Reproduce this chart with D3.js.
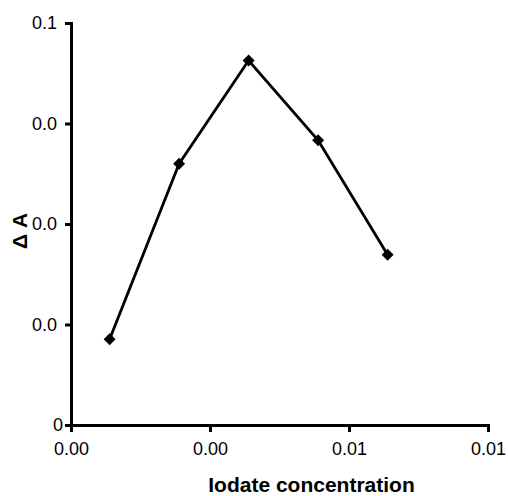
<!DOCTYPE html>
<html>
<head>
<meta charset="utf-8">
<script src="https://cdn.jsdelivr.net/npm/d3@7"></script>
<style>
  html, body { margin: 0; padding: 0; background: #fff; }
  svg { display: block; }
  text { font-family: "Liberation Sans", Arial, sans-serif; fill: #000; }
</style>
</head>
<body>
<svg id="chart" width="508" height="496"></svg>
<script>
// Iodate concentration vs. absorbance change
const concentration = [0.001, 0.0028, 0.0046, 0.0064, 0.0082];
const deltaA = [0.0128, 0.0390, 0.0544, 0.0425, 0.0254];

const xTicks = [0, 0.0036, 0.0072, 0.0108];
const xTickLabels = ["0.00", "0.00", "0.01", "0.01"];
const yTicks = [0, 0.015, 0.03, 0.045, 0.06];
const yTickLabels = ["0", "0.0", "0.0", "0.0", "0.1"];

const xTitle = "Iodate concentration";
const yTitle = "Δ A";

const svg = d3.select("#chart");
const plotLeft = 71, plotRight = 488, plotTop = 23, plotBottom = 425;

const x = d3.scaleLinear().domain([0, 0.0108]).range([plotLeft, plotRight]);
const y = d3.scaleLinear().domain([0, 0.06]).range([plotBottom, plotTop]);

const xAxis = d3.axisBottom(x)
  .tickValues(xTicks)
  .tickFormat((d, i) => xTickLabels[i])
  .tickSizeInner(7).tickSizeOuter(0).tickPadding(10);

const yAxis = d3.axisLeft(y)
  .tickValues(yTicks)
  .tickFormat((d, i) => yTickLabels[i])
  .tickSizeInner(6).tickSizeOuter(0).tickPadding(8);

const gx = svg.append("g").attr("transform", `translate(0,${plotBottom})`).call(xAxis);
const gy = svg.append("g").attr("transform", `translate(${plotLeft},0)`).call(yAxis);

[gx, gy].forEach(g => {
  g.select(".domain").attr("stroke", "#000").attr("stroke-width", 3)
    .attr("stroke-linecap", "square");
  g.selectAll(".tick line").attr("stroke", "#000").attr("stroke-width", 3);
  g.selectAll(".tick text").attr("font-size", 18)
    .attr("font-family", "'Liberation Sans', Arial, sans-serif").attr("fill", "#000");
});
// the lone "0" label sits a little closer to the axis
gy.selectAll(".tick text").filter((d, i) => yTickLabels[i] === "0").attr("x", -8);

const points = concentration.map((c, i) => ({ x: c, y: deltaA[i] }));

const line = d3.line().x(d => x(d.x)).y(d => y(d.y));
svg.append("path")
  .datum(points)
  .attr("d", line)
  .attr("fill", "none")
  .attr("stroke", "#000")
  .attr("stroke-width", 2.8)
  .attr("stroke-linejoin", "miter");

svg.selectAll(".marker")
  .data(points)
  .enter().append("path")
  .attr("class", "marker")
  .attr("d", d3.symbol().type(d3.symbolSquare).size(72))
  .attr("transform", d => `translate(${x(d.x)},${y(d.y)}) rotate(45)`)
  .attr("fill", "#000");

svg.append("text")
  .attr("x", (plotLeft + plotRight) / 2 + 32)
  .attr("y", 492)
  .attr("text-anchor", "middle")
  .attr("font-size", 21)
  .attr("font-weight", "bold")
  .text(xTitle);

svg.append("text")
  .attr("transform", "translate(27,231) rotate(-90)")
  .attr("text-anchor", "middle")
  .attr("font-size", 21)
  .attr("font-weight", "bold")
  .text(yTitle);
</script>
</body>
</html>
